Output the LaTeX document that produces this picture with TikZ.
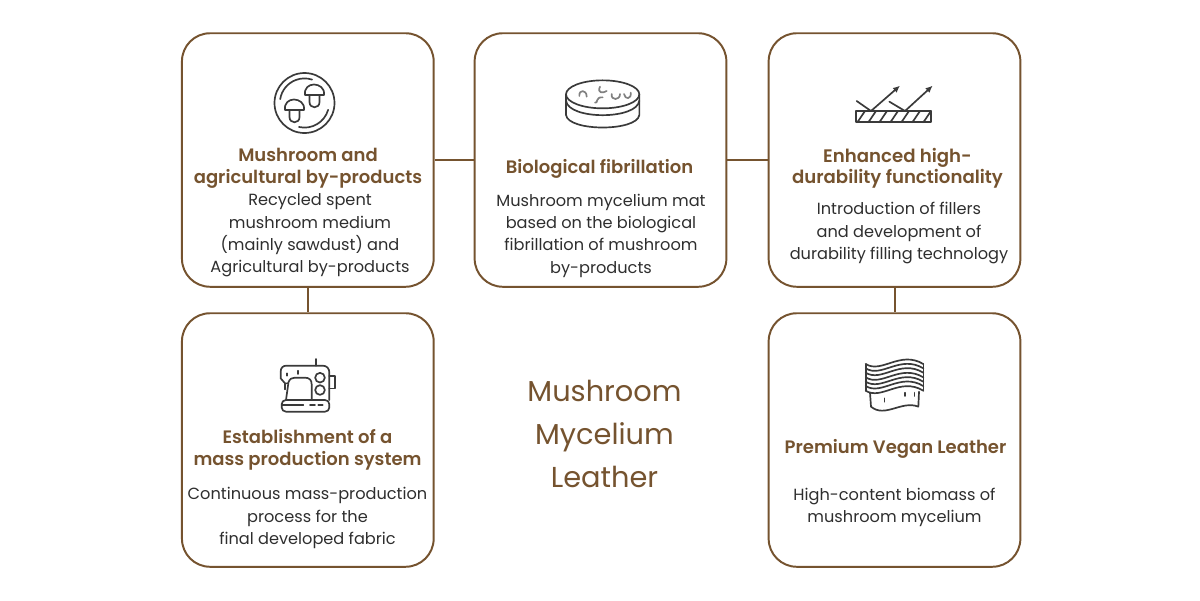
\documentclass[tikz,border=0pt]{standalone}
\usepackage{fontspec}
\setmainfont{Poppins}
\newfontfamily\headfont{Poppins SemiBold}
\usetikzlibrary{calc, arrows.meta}
\definecolor{brownln}{HTML}{75532F}
\definecolor{bodytx}{HTML}{2E2E2E}
\definecolor{iconln}{HTML}{3A3A3A}
\begin{document}
\begin{tikzpicture}[
x=0.025cm, y=-0.025cm,
card/.style = {% rounded boxes
    draw=brownln, line width=1.4pt, rounded corners=20pt, minimum width=179pt,
    minimum height=180.3pt, inner sep=0pt, anchor=center,
            },
link/.style = {brownln, line width=1.4pt},
head/.style = {% box titles
    text=brownln, align=center, inner sep=0pt,
    font=\headfont\fontsize{12.8pt}{15.8pt}\selectfont,
            },
body/.style = {% box text
    text=bodytx, align=center, inner sep=0pt,
    font=\fontsize{11.5pt}{15.9pt}\selectfont,
            },
icn/.style = {iconln, line width=1.2pt, line cap=round, line join=round},
zoomed/.style = {shift={#1}, x=0.008333cm, y=-0.008333cm},
                        ]
\useasboundingbox (0,0) rectangle (1200,600);
% boxes
\node[card] (mush) at (307.8,160) {};
\node[card] (fibril) at (600.5,160) {};
\node[card] (durab) at (894.5,160) {};
\node[card] (mass) at (307.8,440) {};
\node[card] (vegan) at (894.5,440) {};
% links
\draw[link] (mush.east) -- (fibril.west);
\draw[link] (fibril.east) -- (durab.west);
\draw[link] (mush.south) -- (mass.north);
\draw[link] (durab.south) -- (vegan.north);
% titles
\node[head] (mushT) at (308,168) {Mushroom and\\agricultural by-products};
\node[head] (fibrilT) at (599.5,169) {Biological fibrillation};
\node[head,font=\headfont\fontsize{12.9pt}{12.4pt}\selectfont] (durabT) at (897.5,168.5) {Enhanced high-\\durability functionality};
\node[head] (massT) at (307.5,450) {Establishment of a\\mass production system};
\node[head] (veganT) at (895.5,449) {Premium Vegan Leather};
% text
\node[body] (mushB) at (310,235.5) {Recycled spent\\mushroom medium\\(mainly sawdust) and\\Agricultural by-products};
\node[body] (fibrilB) at (601,235.5) {Mushroom mycelium mat\\based on the biological\\fibrillation of mushroom\\by-products};
\node[body] (durabB) at (899,233) {Introduction of fillers\\and development of\\durability filling technology};
\node[body] (massB) at (307.5,518) {Continuous mass-production\\process for the\\final developed fabric};
\node[body] (veganB) at (894.5,507.5) {High-content biomass of\\mushroom mycelium};
% middle label
\node[text=brownln, align=center, inner sep=0pt, font=\fontsize{20.5pt}{30.6pt}\selectfont] (title) at (604.5,434) {Mushroom\\Mycelium\\Leather};
% icon: mushrooms on a plate
\begin{scope}[icn]
\draw (304.5,103) circle (30);
\draw (304.5,103) ++(-171:24.6) arc[start angle=-171, end angle=-72, radius=24.6];
\draw (304.5,103) ++(103:24.6) arc[start angle=103, end angle=16, radius=24.6];
\foreach \dx/\dy in {0/0, -20/15}{
  \draw[xshift=\dx*0.025cm, yshift=-\dy*0.025cm]
    (305,95) .. controls (304,88) and (309,84.5) .. (314,84.5)
    .. controls (319,84.5) and (325,88) .. (324,95) -- cycle;
  \draw[xshift=\dx*0.025cm, yshift=-\dy*0.025cm]
    (309.5,95) -- (309.5,102) .. controls (309.5,109) and (319.5,109) .. (319.5,102) -- (319.5,95);
}
\end{scope}
% icon: mycelium disc
\begin{scope}[icn, zoomed={(540,60)}]
\draw (188,103) ellipse (110 and 42);
\draw (78,103) -- (78,165) .. controls (85,215) and (291,215) .. (298,165) -- (298,103);
\draw (78,122) .. controls (85,180) and (291,180) .. (298,122);
\draw[gray] (118,108) .. controls (116,88) and (140,88) .. (140,110);
\draw[gray] (180,80) .. controls (170,100) and (190,100) .. (200,93);
\draw[gray] (188,112) .. controls (165,110) and (175,132) .. (165,128);
\draw[gray] (215,102) .. controls (212,122) and (240,122) .. (240,102);
\draw[gray] (252,102) .. controls (255,120) and (275,118) .. (272,98);
\end{scope}
% icon: coated surface
\begin{scope}[icn, zoomed={(830,70)}]
\draw (78,123) rectangle (303,157);
\foreach \hx in {82,115,148,181,214,247,280}{\draw (\hx,157) -- (\hx+23,123);}
\draw (80,93) -- (123,123);
\draw[-{Latex[length=5pt,width=4.5pt]}] (123,123) -- (210,47);
\draw (178,95) -- (225,123);
\draw[-{Latex[length=5pt,width=4.5pt]}] (225,123) -- (308,47);
\end{scope}
% icon: sewing machine
\begin{scope}[icn, zoomed={(260,350)}]
\draw (75,100) -- (62,85) -- (62,65) .. controls (62,52) and (70,47) .. (80,47) -- (188,47)
  .. controls (200,47) and (208,55) .. (208,68) -- (208,150);
\draw (75,100) -- (84,100) .. controls (90,85) and (95,83) .. (105,83) -- (135,83)
  .. controls (148,83) and (155,90) .. (155,103) -- (155,150);
\draw (85,100) -- (78,150);
\draw (75,103) -- (75,118);
\draw (168,27) -- (168,47);
\draw (80,70) -- (80,77);
\draw (115,62) -- (115,72);
\draw (180,83) circle (14.5);
\draw (180,120) circle (14.5);
\draw (208,78) -- (224,78) -- (224,115) -- (208,115);
\draw[rounded corners=3pt] (65,150) rectangle (208,185);
\draw (65,165) -- (130,165);
\draw (150,165) -- (165,165);
\draw (175,165) -- (188,165);
\end{scope}
% icon: leather sheets
\begin{scope}[icn, zoomed={(845,350)}]
\foreach \wy in {42,55,68,82,95,108,122}{
  \draw (62,\wy) .. controls (110,\wy+30) and (165,\wy-42) .. (235,\wy);
}
\draw (62,42) -- (62,122);
\draw (235,42) -- (235,122);
\draw (75,128) -- (78,170) .. controls (120,205) and (170,150) .. (220,170) -- (222,125);
\draw (118,145) -- (118,155);
\draw (180,128) -- (180,138);
\draw (208,128) -- (208,138);
\end{scope}
\end{tikzpicture}
\end{document}
